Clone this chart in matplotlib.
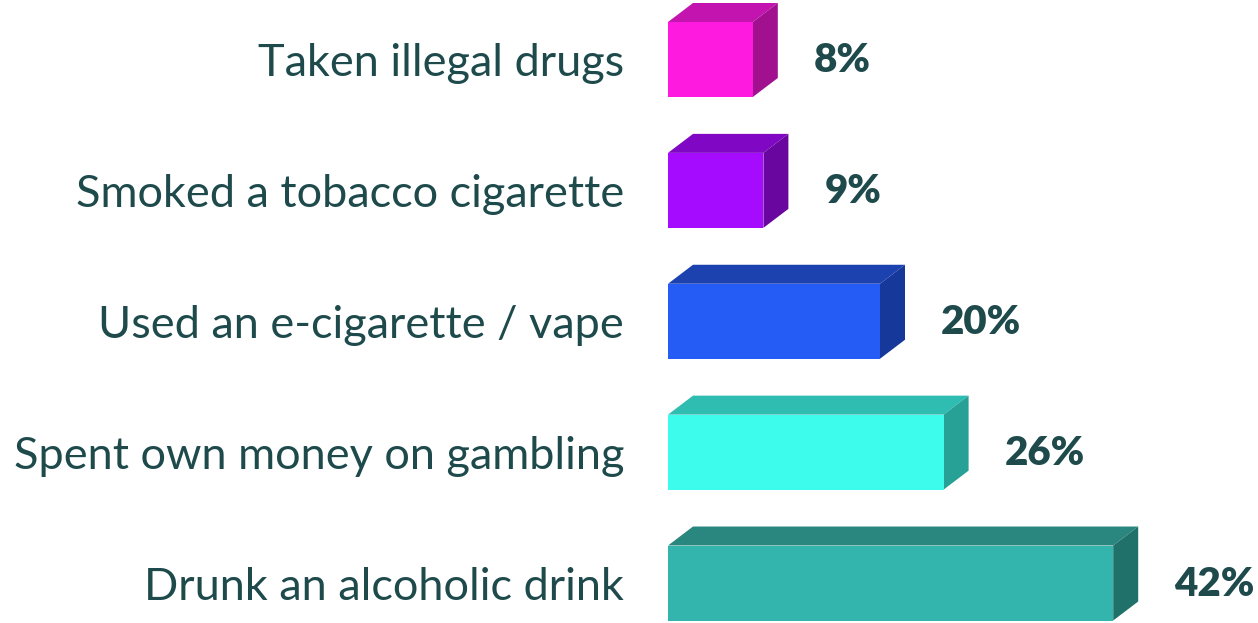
import matplotlib
matplotlib.use("Agg")
import matplotlib.pyplot as plt
from matplotlib.patches import Polygon, Rectangle

categories = [
    "Taken illegal drugs",
    "Smoked a tobacco cigarette",
    "Used an e-cigarette / vape",
    "Spent own money on gambling",
    "Drunk an alcoholic drink",
]
values = [8, 9, 20, 26, 42]
value_labels = ["8%", "9%", "20%", "26%", "42%"]

# front, top, side shades per bar
front_colors = ["#FF1ADF", "#A40BFF", "#245CF5", "#3DFCEB", "#33B4AC"]
top_colors = ["#C414B0", "#8007C4", "#1C42B0", "#2FBCB1", "#2A877F"]
side_colors = ["#A0108F", "#6906A0", "#16389B", "#27A096", "#20716A"]

text_color = "#1E4A4C"

W, H, DPI = 1258, 623, 100
fig = plt.figure(figsize=(W / DPI, H / DPI), dpi=DPI)

left_px = 668
ax = fig.add_axes([left_px / W, 0, 1 - left_px / W, 1])

px_per_unit_x = 10.6
row_px = 130.9
ax.set_xlim(0, (W - left_px) / px_per_unit_x)
ax.set_ylim(4 + (H - 583) / row_px, -59.5 / row_px)

bar_h = 75 / row_px
dx = 25 / px_per_unit_x
dy = 19 / row_px

for i, v in enumerate(values):
    y0 = i - bar_h / 2
    y1 = i + bar_h / 2
    ax.add_patch(Rectangle((0, y0), v, bar_h, facecolor=front_colors[i],
                           edgecolor="none", zorder=3))
    top = [(0, y0), (v, y0), (v + dx, y0 - dy), (dx, y0 - dy)]
    ax.add_patch(Polygon(top, closed=True, facecolor=top_colors[i],
                         edgecolor="none", zorder=2))
    side = [(v, y0), (v + dx, y0 - dy), (v + dx, y1 - dy), (v, y1)]
    ax.add_patch(Polygon(side, closed=True, facecolor=side_colors[i],
                         edgecolor="none", zorder=2))
    ax.annotate(value_labels[i], xy=(v, i), xytext=((25 + 36) * 0.72, -1),
                textcoords="offset points", ha="left", va="center",
                fontsize=29, fontweight="heavy", family="Lato",
                color=text_color)

ax.set_yticks(range(len(categories)))
ax.set_yticklabels(categories, fontsize=32.5, family="Lato",
                   fontweight="normal", color=text_color)
ax.tick_params(axis="y", length=0, pad=44 * 0.72)
ax.set_xticks([])
for s in ax.spines.values():
    s.set_visible(False)
ax.patch.set_alpha(0)

fig.savefig("out.png", dpi=DPI)
